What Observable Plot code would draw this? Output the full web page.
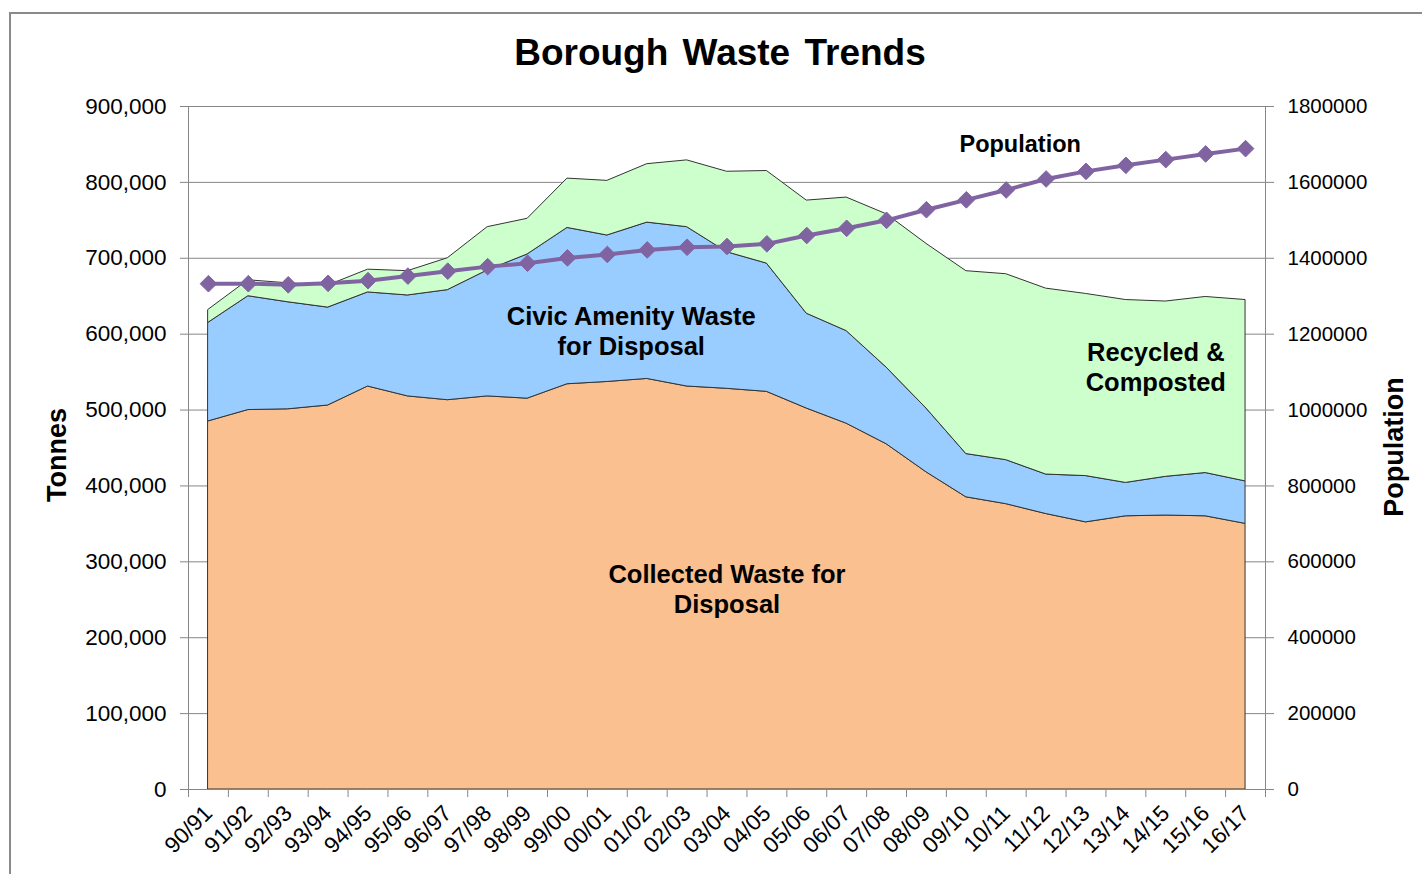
<!DOCTYPE html>
<html><head><meta charset="utf-8">
<script src="https://cdn.jsdelivr.net/npm/d3@7"></script>
<script src="https://cdn.jsdelivr.net/npm/@observablehq/plot@0.6"></script>
<style>
body{margin:0;background:#fff;font-family:"Liberation Sans",Arial,sans-serif;}
#wrap{position:relative;width:1422px;height:874px;overflow:hidden;}
#frame{position:absolute;left:9px;top:12px;width:1440px;height:900px;border:2px solid #8a8a8a;box-sizing:border-box;}
#title{position:absolute;left:0;width:1440px;top:32px;text-align:center;font-weight:bold;font-size:37px;word-spacing:4px;}
.ylab{position:absolute;font-weight:bold;font-size:27px;transform:translate(-50%,-50%) rotate(-90deg);white-space:nowrap;}
#chart svg{position:absolute;left:0;top:0;}
</style></head>
<body>
<div id="wrap">
<div id="frame"></div>
<div id="chart"></div>
<div id="title">Borough Waste Trends</div>
<div class="ylab" style="left:57px;top:455px;">Tonnes</div>
<div class="ylab" style="left:1394px;top:447px;">Population</div>
</div>
<script>
const categories = ["90/91","91/92","92/93","93/94","94/95","95/96","96/97","97/98","98/99","99/00","00/01","01/02","02/03","03/04","04/05","05/06","06/07","07/08","08/09","09/10","10/11","11/12","12/13","13/14","14/15","15/16","16/17"];
const collected = [485000,500000,501000,506000,531000,518000,513000,518000,515000,534000,537000,541000,531000,528000,524000,502000,482000,455000,418000,385000,376000,363000,352000,360000,361000,360000,350000];
const civic = [130000,150000,141000,129000,124000,133000,145000,166000,190000,206000,193000,206000,210000,180000,169000,125000,122000,101000,84000,57000,58000,52000,61000,44000,51000,57000,56000];
const recycled = [17000,21000,25000,29000,30000,32000,42000,57000,47000,65000,72000,77000,88000,106000,122000,149000,176000,202000,217000,241000,245000,245000,240000,241000,231000,232000,239000];
const population = [1333000,1333000,1330000,1334000,1341000,1353000,1366000,1378000,1387000,1401000,1410000,1422000,1429000,1431000,1438000,1460000,1479000,1500000,1528000,1554000,1580000,1609000,1629000,1645000,1660000,1675000,1689000];
const seriesNames = ["Collected Waste for Disposal","Civic Amenity Waste for Disposal","Recycled & Composted"];
const seriesColors = ["#FAC090","#99CCFF","#CCFFCC"];
const tonnesTicks = [0,100000,200000,300000,400000,500000,600000,700000,800000,900000];
const populationTicks = [0,200000,400000,600000,800000,1000000,1200000,1400000,1600000,1800000];
const annotations = [
  {text:"Civic Amenity Waste\nfor Disposal", cat:"01/02", shift:-0.4, value:605000},
  {text:"Collected Waste for\nDisposal", cat:"03/04", shift:0, value:265000},
  {text:"Recycled &\nComposted", cat:"14/15", shift:-0.25, value:557000}
];
const popLabel = {text:"Population", cat:"10/11", shift:0.35, value:1700000};

const seriesValues = [collected, civic, recycled];
const rows = [];
seriesNames.forEach((s, k) => seriesValues[k].forEach((v, i) => rows.push({i, series: s, value: v})));
const popRows = population.map((p, i) => ({i, p}));
const popScale = populationTicks[populationTicks.length - 1] / tonnesTicks[tonnesTicks.length - 1];

const plot = Plot.plot({
  width: 1422, height: 874,
  marginLeft: 188, marginRight: 157, marginTop: 106, marginBottom: 85,
  style: {fontFamily: "Liberation Sans, Arial, sans-serif", fontSize: "20px", color: "black", background: "transparent"},
  x: {domain: [-0.5, categories.length - 0.5], axis: null},
  y: {domain: [0, 900000], axis: null},
  color: {domain: seriesNames, range: seriesColors},
  marks: [
    Plot.gridY(tonnesTicks, {stroke: "#868686", strokeOpacity: 1, strokeWidth: 1}),
    Plot.areaY(rows, {x: "i", y: "value", z: "series", fill: "series", stroke: "#333", strokeWidth: 1, strokeLinejoin: "round"}),
    Plot.frame({stroke: "#868686", strokeWidth: 1}),
    Plot.axisY({ticks: tonnesTicks, tickSize: 8, tickPadding: 14, tickFormat: d3.format(","), stroke: "#868686", fill: "black", fontSize: 22.5, label: null}),
    Plot.axisY({anchor: "right", ticks: tonnesTicks, tickSize: 8, tickPadding: 14, tickFormat: d => String(d * popScale), stroke: "#868686", fill: "black", fontSize: 20.5, label: null}),
    Plot.axisX({ticks: d3.range(categories.length + 1).map(i => i - 0.5), tickSize: 8, tickFormat: () => "", stroke: "#868686", label: null}),
    Plot.axisX({ticks: d3.range(categories.length), tickSize: 0, tickPadding: 20, tickRotate: -45, tickFormat: i => categories[i], fill: "black", fontSize: 22.5, label: null}),
    Plot.line(popRows, {x: "i", y: d => d.p / popScale, stroke: "#8064A2", strokeWidth: 4}),
    Plot.dot(popRows, {x: "i", y: d => d.p / popScale, symbol: "diamond2", r: 7.5, fill: "#8064A2", stroke: "#8064A2", strokeWidth: 1}),
    Plot.text(annotations, {x: d => categories.indexOf(d.cat) + d.shift, y: "value", text: "text", fontWeight: "bold", fontSize: 25.5, lineHeight: 1.16, fill: "black", textAnchor: "middle"}),
    Plot.text([popLabel], {x: d => categories.indexOf(d.cat) + d.shift, y: d => d.value / popScale, text: "text", fontWeight: "bold", fontSize: 23.5, fill: "black", textAnchor: "middle"})
  ]
});
document.getElementById("chart").appendChild(plot);
</script>
</body></html>
